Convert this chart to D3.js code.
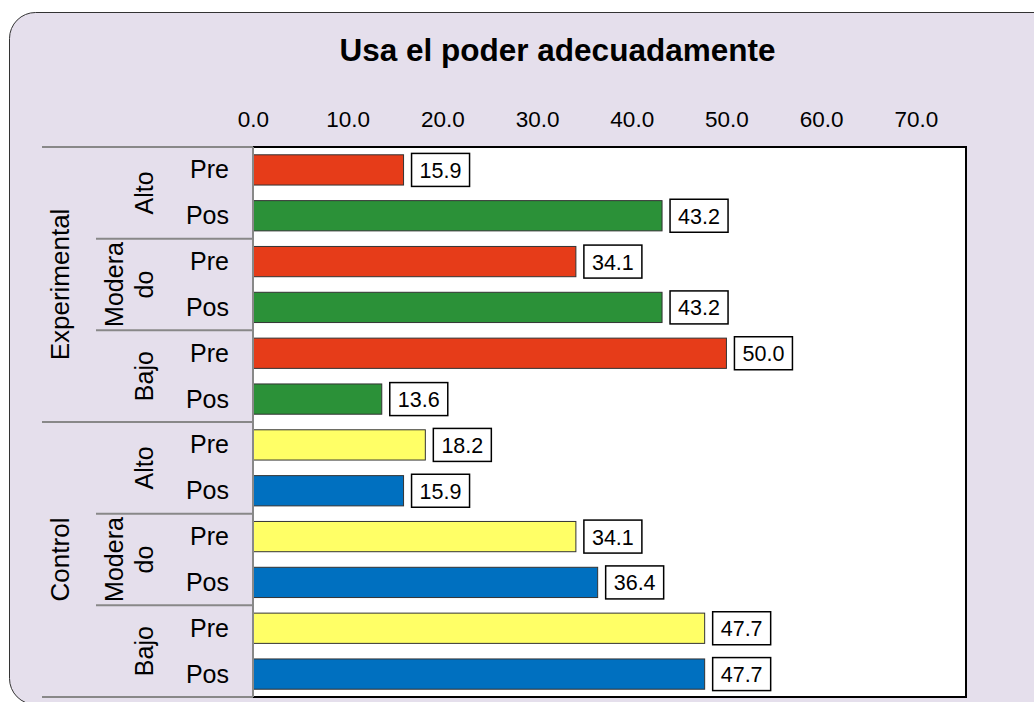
<!DOCTYPE html>
<html>
<head>
<meta charset="utf-8">
<script src="https://cdn.jsdelivr.net/npm/d3@7"></script>
<style>
html,body{margin:0;padding:0;background:#fff;}
svg{display:block;font-family:"Liberation Sans",Arial,sans-serif;}
</style>
</head>
<body>
<svg id="chart" width="1034" height="702"></svg>
<script>
const title = "Usa el poder adecuadamente";
const groups = ["Experimental", "Control"];
const levels = ["Alto", "Moderado", "Bajo"];
const phases = ["Pre", "Pos"];
const experimentalValues = [15.9, 43.2, 34.1, 43.2, 50.0, 13.6];
const controlValues = [18.2, 15.9, 34.1, 36.4, 47.7, 47.7];
const tickValues = [0, 10, 20, 30, 40, 50, 60, 70];
const colors = {
  "Experimental-Pre": "#E63C19",
  "Experimental-Pos": "#2B9138",
  "Control-Pre": "#FFFF66",
  "Control-Pos": "#0070C0"
};

const rows = [];
groups.forEach((g, gi) => {
  const vals = gi === 0 ? experimentalValues : controlValues;
  levels.forEach((l, li) => {
    phases.forEach((p, pi) => {
      rows.push({group: g, level: l, phase: p, value: vals[li * 2 + pi], key: g + "|" + l + "|" + p});
    });
  });
});

const svg = d3.select("#chart");
const W = 1034, H = 702;
const pL = 253, pR = 966, pT = 147, pB = 697;

// background panel
svg.append("rect").attr("x", 0).attr("y", 0).attr("width", W).attr("height", H).attr("fill", "#fff");
svg.append("rect").attr("x", 9.5).attr("y", 12.5).attr("width", 1060).attr("height", 692)
  .attr("rx", 26).attr("ry", 26).attr("fill", "#E5DFEC").attr("stroke", "#333").attr("stroke-width", 1);

const x = d3.scaleLinear().domain([0, 75.3]).range([pL, pR]);
const y = d3.scaleBand().domain(rows.map(d => d.key)).range([pT, pB]).paddingInner(0.34).paddingOuter(0.17);

// plot area
svg.append("rect").attr("x", pL).attr("y", pT).attr("width", pR - pL).attr("height", pB - pT)
  .attr("fill", "#fff");

// title
svg.append("text").attr("x", 557.5).attr("y", 61).attr("text-anchor", "middle")
  .attr("font-size", 31.5).attr("font-weight", "bold").attr("fill", "#000").text(title);

// top axis
const axis = d3.axisTop(x).tickValues(tickValues).tickFormat(d3.format(".1f")).tickSize(0).tickPadding(20);
const ag = svg.append("g").attr("transform", `translate(0,${pT})`).call(axis);
ag.select(".domain").remove();
ag.selectAll("text").attr("font-size", 22.5).attr("fill", "#000").attr("font-family", "Liberation Sans, Arial, sans-serif");

// bars
svg.append("g").selectAll("rect").data(rows).join("rect")
  .attr("x", x(0)).attr("y", d => y(d.key))
  .attr("width", d => x(d.value) - x(0)).attr("height", y.bandwidth())
  .attr("fill", d => colors[d.group + "-" + d.phase])
  .attr("stroke", "#333").attr("stroke-width", 1);

// value labels
const lg = svg.append("g").selectAll("g").data(rows).join("g")
  .attr("transform", d => `translate(${x(d.value) + 8},${y(d.key) + y.bandwidth() / 2})`);
lg.append("rect").attr("x", 0).attr("y", -16.5).attr("width", 58).attr("height", 33)
  .attr("fill", "#fff").attr("stroke", "#000").attr("stroke-width", 1.5);
lg.append("text").attr("x", 29).attr("y", 8).attr("text-anchor", "middle")
  .attr("font-size", 21.5).attr("fill", "#000").text(d => d.value.toFixed(1));

// plot border
svg.append("rect").attr("x", pL).attr("y", pT).attr("width", pR - pL).attr("height", pB - pT)
  .attr("fill", "none").attr("stroke", "#000").attr("stroke-width", 2);
svg.append("line").attr("x1", pL).attr("x2", pL).attr("y1", pT).attr("y2", pB)
  .attr("stroke", "#888").attr("stroke-width", 2);

// category labels
const rowStep = y.step();
const rowY = i => pT + rowStep * i;
const lab = svg.append("g");
rows.forEach((d, i) => {
  lab.append("text").attr("x", 229).attr("y", rowY(i) + rowStep / 2 + 8.5)
    .attr("text-anchor", "end").attr("font-size", 25).attr("fill", "#000").text(d.phase);
});
// separators
const sep = svg.append("g").attr("stroke", "#888").attr("stroke-width", 2);
groups.forEach((g, gi) => {
  const gTop = rowY(gi * 6);
  sep.append("line").attr("x1", 42).attr("x2", pL).attr("y1", gTop).attr("y2", gTop);
  levels.forEach((l, li) => {
    const lTop = rowY(gi * 6 + li * 2);
    if (li > 0) sep.append("line").attr("x1", 96).attr("x2", pL).attr("y1", lTop).attr("y2", lTop);
    const cy = lTop + rowStep;
    if (l === "Moderado") {
      const t = lab.append("text").attr("transform", `translate(0,${cy}) rotate(-90)`)
        .attr("text-anchor", "middle").attr("font-size", 25).attr("fill", "#000");
      t.append("tspan").attr("x", 0).attr("y", 123).text("Modera");
      t.append("tspan").attr("x", 0).attr("y", 153).text("do");
    } else {
      lab.append("text").attr("transform", `translate(153,${cy}) rotate(-90)`)
        .attr("text-anchor", "middle").attr("font-size", 25).attr("fill", "#000").text(l);
    }
  });
  lab.append("text").attr("transform", `translate(69,${gTop + rowStep * 3}) rotate(-90)`)
    .attr("text-anchor", "middle").attr("font-size", 26).attr("fill", "#000").text(g);
});
sep.append("line").attr("x1", 42).attr("x2", pL).attr("y1", pB).attr("y2", pB);
</script>
</body>
</html>
